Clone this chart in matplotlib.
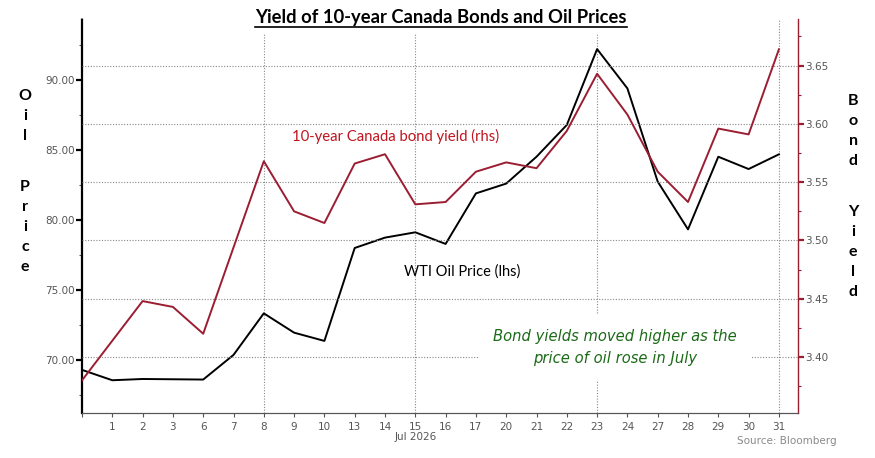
import matplotlib
matplotlib.use('Agg')
import matplotlib.pyplot as plt
from matplotlib.lines import Line2D
from matplotlib.ticker import FixedLocator

# ---------------- data ----------------
days = ['', '1', '2', '3', '6', '7', '8', '9', '10', '13', '14', '15', '16',
        '17', '20', '21', '22', '23', '24', '27', '28', '29', '30', '31']
oil = [69.29, 68.55, 68.64, 68.62, 68.60, 70.36, 73.33, 71.95, 71.36, 78.00,
       78.74, 79.12, 78.29, 81.90, 82.60, 84.52, 86.79, 92.21, 89.40, 82.74,
       79.33, 84.52, 83.64, 84.69]
bond_yield = [3.380, 3.414, 3.448, 3.443, 3.420, 3.494, 3.568, 3.525, 3.515,
              3.566, 3.574, 3.531, 3.533, 3.559, 3.567, 3.562, 3.594, 3.643,
              3.608, 3.559, 3.533, 3.596, 3.591, 3.664]
oil_ticks = [70, 75, 80, 85, 90]
oil_minor = [67.5, 72.5, 77.5, 82.5, 87.5, 92.5]
yield_ticks = [3.40, 3.45, 3.50, 3.55, 3.60, 3.65]
yield_minor = [3.375, 3.425, 3.475, 3.525, 3.575, 3.625, 3.675]
grid_days = ['8', '15', '23', '31']

title = 'Yield of 10-year Canada Bonds and Oil Prices'
yield_label = '10-year Canada bond yield (rhs)'
oil_label = 'WTI Oil Price (lhs)'
note = 'Bond yields moved higher as the\nprice of oil rose in July'
month_label = 'Jul 2026'
source = 'Source: Bloomberg'

RED = '#9b1d32'
RED_TXT = '#c0141e'
GREEN = '#1b6a17'
GRAY = '#555555'

fig = plt.figure(figsize=(8.75, 4.58), dpi=100)
ax = fig.add_axes([82 / 875, 45 / 458, (798 - 82) / 875, (413 - 19) / 458])
ax2 = ax.twinx()

x = list(range(len(days)))
ax.plot(x, oil, color='black', lw=1.4, zorder=3)
ax2.plot(x, bond_yield, color=RED, lw=1.4, zorder=3)

ax.set_xlim(0, 23.63)
ax.set_ylim(66.21, 94.36)
ax2.set_ylim(3.352, 3.690)

# x axis
ax.set_xticks(x)
ax.set_xticklabels(days, fontsize=7.5, color=GRAY, family='DejaVu Sans')
ax.tick_params(axis='x', length=3, color=GRAY)

# left axis
ax.set_yticks(oil_ticks)
ax.set_yticklabels([f'{v:.2f}' for v in oil_ticks], fontsize=7.5, color=GRAY)
ax.yaxis.set_minor_locator(FixedLocator(oil_minor))
ax.tick_params(axis='y', which='major', length=4, width=1.6, color='black', pad=1)
ax.tick_params(axis='y', which='minor', length=2, width=0.8, color=GRAY)

# right axis
ax2.set_yticks(yield_ticks)
ax2.set_yticklabels([f'{v:.2f}' for v in yield_ticks], fontsize=7.5, color=GRAY)
ax2.yaxis.set_minor_locator(FixedLocator(yield_minor))
ax2.tick_params(axis='y', which='major', length=4, width=1.6, color=RED, pad=1)
ax2.tick_params(axis='y', which='minor', length=2, width=0.8, color=RED)

for a in (ax, ax2):
    a.spines['top'].set_visible(False)
    a.spines['bottom'].set_color(GRAY)
    a.spines['left'].set_visible(False)
    a.spines['right'].set_visible(False)
ax.spines['left'].set_visible(True)
ax.spines['left'].set_linestyle((0, (1, 1)))
ax.spines['left'].set_linewidth(1.6)
ax.spines['left'].set_color('black')
ax2.spines['right'].set_visible(True)
ax2.spines['right'].set_color(RED)
ax2.spines['right'].set_linewidth(1.0)

# grid
for v in yield_ticks:
    ax2.axhline(v, color='#888888', lw=0.8, ls=(0, (1, 1.5)), zorder=1)
for d in grid_days:
    ax.axvline(days.index(d), color='#888888', lw=0.8, ls=(0, (1, 1.5)), zorder=1)

# series labels
ax2.text(6.93, 3.5888, yield_label, color=RED_TXT, fontsize=10.7, family='Lato',
         va='center', ha='left', zorder=4)
ax.text(10.63, 76.3, oil_label, color='black', fontsize=10.5, family='Lato',
        va='center', ha='left', zorder=4)

# annotation
ax2.text(17.6, 3.4084, note, color=GREEN, fontsize=10.6, style='italic',
         family='DejaVu Sans', ha='center', va='center', linespacing=1.6,
         zorder=5,
         bbox=dict(boxstyle='square,pad=1.0', fc='white', ec='none'))

# month label
ax.annotate(month_label, xy=(11, 0), xycoords=('data', 'axes fraction'),
            xytext=(0, -17), textcoords='offset points', ha='center', va='center',
            fontsize=7.5, color=GRAY)

# stacked axis titles
fig.text(25 / 875, 1 - 116 / 458, 'O\ni\nl', family='Lato', weight='bold',
         fontsize=11.5, ha='center', va='center', linespacing=1.55)
fig.text(25 / 875, 1 - 227 / 458, 'P\nr\ni\nc\ne', family='Lato', weight='bold',
         fontsize=11.5, ha='center', va='center', linespacing=1.55)
fig.text(853 / 875, 1 - 131 / 458, 'B\no\nn\nd', family='Lato', weight='bold',
         fontsize=11.5, ha='center', va='center', linespacing=1.55)
fig.text(853 / 875, 1 - 252 / 458, 'Y\ni\ne\nl\nd', family='Lato', weight='bold',
         fontsize=11.5, ha='center', va='center', linespacing=1.55)

# source
fig.text(837 / 875, 1 - 441 / 458, source, fontsize=7.5, color='#8a8a8a',
         ha='right', va='center')

# title with underline
t = fig.text(441 / 875, 1 - 17 / 458, title, family='Lato', weight='bold',
             fontsize=13.2, ha='center', va='center', zorder=10,
             bbox=dict(boxstyle='square,pad=0.4', fc='white', ec='none'))
fig.canvas.draw()
bb = t.get_window_extent(renderer=fig.canvas.get_renderer())
inv = fig.transFigure.inverted()
(x0, y0), (x1, y1) = inv.transform([(bb.x0, bb.y0 - 1), (bb.x1, bb.y0 - 1)])
fig.add_artist(Line2D([x0, x1], [y0, y1], transform=fig.transFigure,
                      color='black', lw=1.2, zorder=11))

fig.savefig('out.png', dpi=100)
